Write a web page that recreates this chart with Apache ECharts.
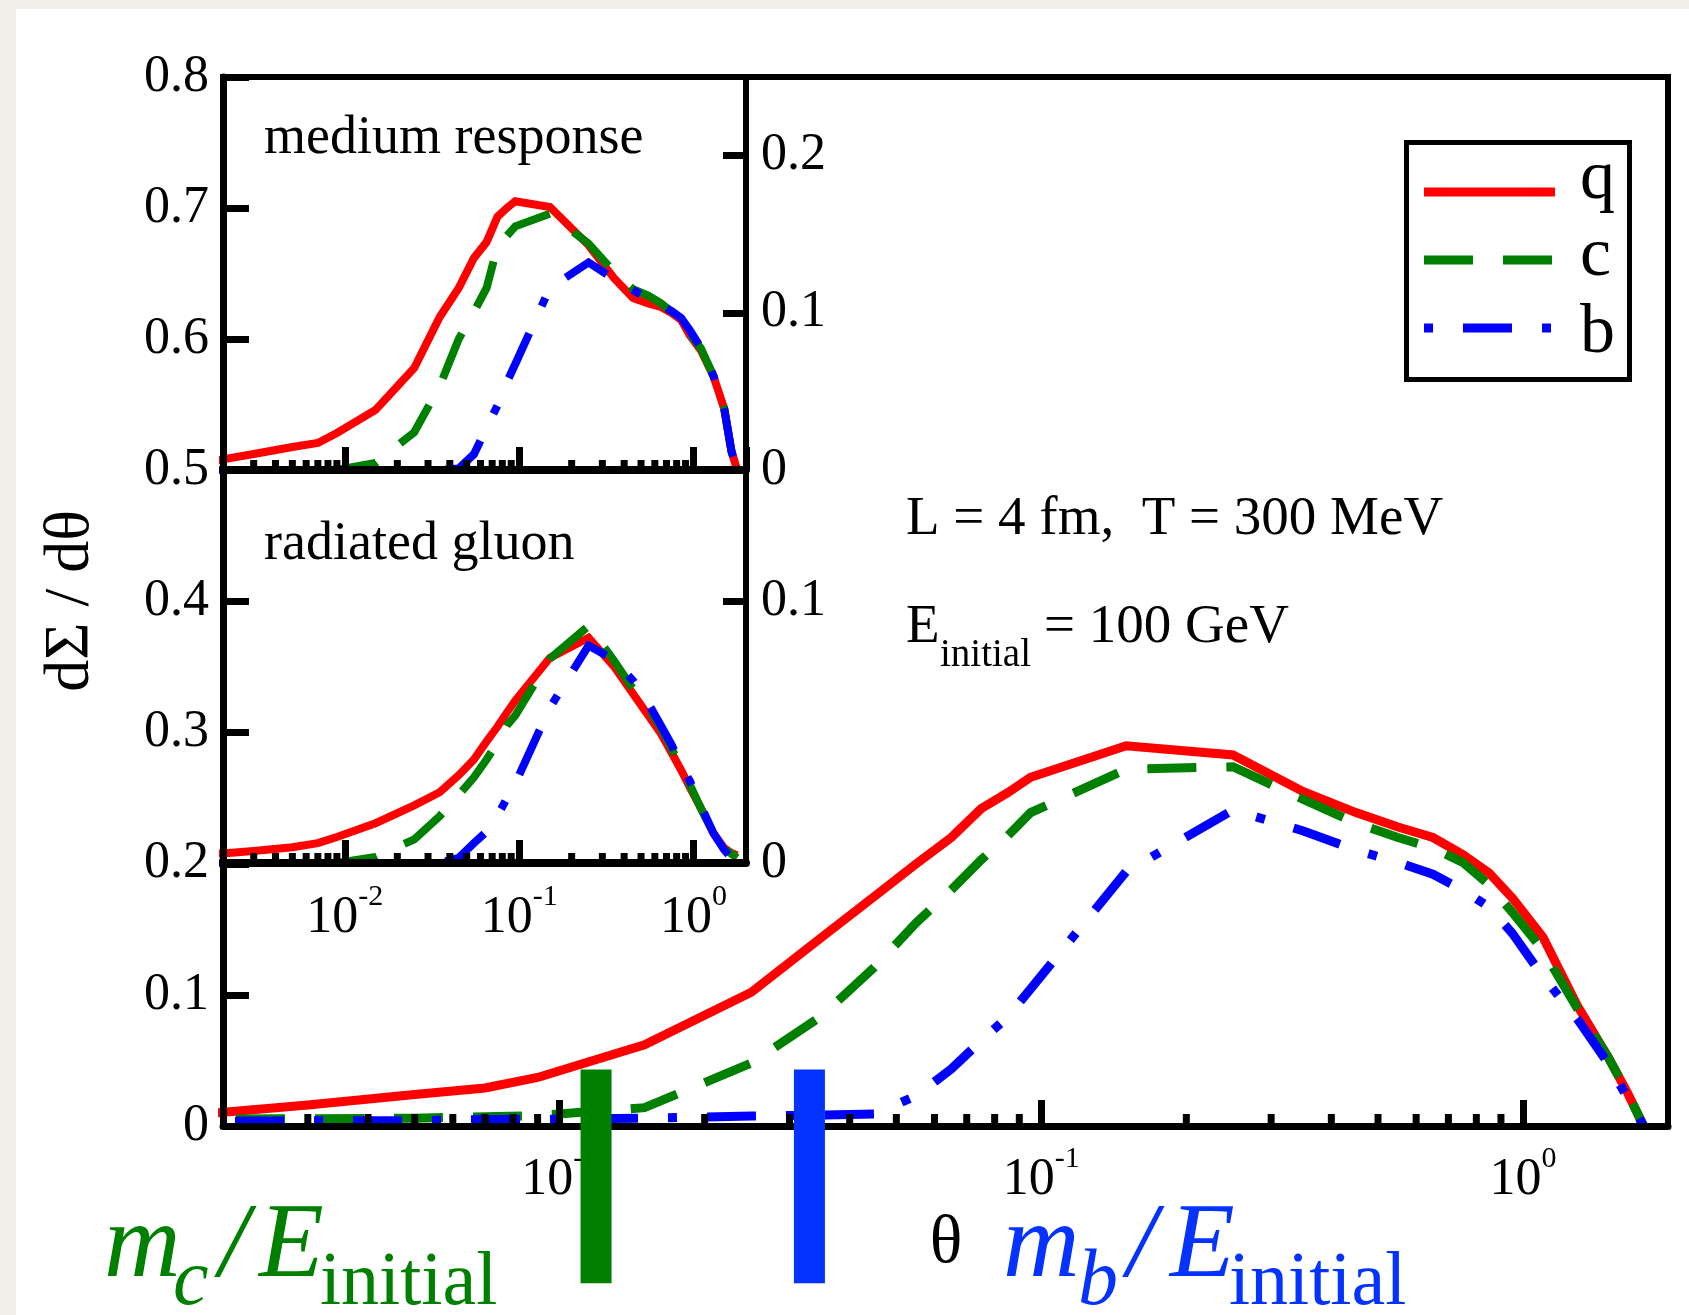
<!DOCTYPE html>
<html>
<head>
<meta charset="utf-8">
<title>dΣ/dθ for q, c, b jets</title>
<script src="https://cdn.jsdelivr.net/npm/echarts@6/dist/echarts.min.js"></script>
<style>
  html, body { margin: 0; padding: 0; background: #f2efe8; overflow: hidden; }
  #paper { position: absolute; left: 16px; top: 9px; right: 0; bottom: 0; background: #ffffff; }
  #chart { position: absolute; left: 0; top: 0; width: 1689px; height: 1315px; }
</style>
</head>
<body>
<div id="paper"></div>
<div id="chart"></div>
<script>
// Angular bin centres shared by every curve
const THETA = [0.001, 0.003, 0.005, 0.007, 0.009, 0.015, 0.025, 0.035, 0.045, 0.055,
               0.065, 0.075, 0.085, 0.095, 0.15, 0.25, 0.35, 0.45, 0.55, 0.65,
               0.75, 0.85, 0.95, 1.1, 1.3, 1.5, 1.65, 1.78];

// Full distribution dΣ/dθ (main panel)
const MAIN_Q = [0.001, 0.016, 0.024, 0.029, 0.037, 0.062, 0.102, 0.144, 0.175, 0.200,
                0.220, 0.242, 0.254, 0.266, 0.290, 0.283, 0.255, 0.239, 0.228, 0.220,
                0.207, 0.193, 0.174, 0.144, 0.091, 0.053, 0.025, 0];
const MAIN_C = [0.005, 0.0055, 0.006, 0.007, 0.008, 0.014, 0.048, 0.084, 0.121, 0.155,
                0.180, 0.203, 0.221, 0.239, 0.272, 0.274, 0.249, 0.231, 0.220, 0.212,
                0.201, 0.184, 0.163, 0.134, 0.089, 0.053, 0.025, 0];
const MAIN_B = [0.003, 0.004, 0.004, 0.005, 0.005, 0.006, 0.0076, 0.0084, 0.0092, 0.023,
                0.0435, 0.065, 0.083, 0.1045, 0.194, 0.241, 0.225, 0.2105, 0.201, 0.192,
                0.180, 0.167, 0.147, 0.114, 0.081, 0.048, 0.021, 0];

// Inset, upper panel: medium response
const MED_Q = [0.001, 0.0102, 0.0146, 0.0172, 0.0235, 0.0382, 0.0649, 0.0973, 0.1158, 0.1349,
               0.145, 0.161, 0.1667, 0.171, 0.1673, 0.143, 0.122, 0.1094, 0.106, 0.1037,
               0.0999, 0.0954, 0.0859, 0.0763, 0.0598, 0.039, 0.012, 0];
const MED_C = [0, 0, 0, 0, 0, 0.0045, 0.024, 0.0534, 0.0833, 0.1005,
               0.1158, 0.1418, 0.149, 0.155, 0.163, 0.144, 0.126, 0.115, 0.111, 0.106,
               0.1005, 0.0954, 0.087, 0.0775, 0.060, 0.039, 0.012, 0];
const MED_B = [0, 0, 0, 0, 0, 0, 0, 0, 0.001, 0.010,
               0.0267, 0.041, 0.056, 0.0674, 0.1158, 0.132, 0.1215, 0.1145, 0.109, 0.105,
               0.101, 0.0967, 0.089, 0.078, 0.060, 0.039, 0.012, 0];

// Inset, lower panel: radiated gluon
const RAD_Q = [0.002, 0.0046, 0.006, 0.0076, 0.0099, 0.0152, 0.022, 0.027, 0.0335, 0.0395,
               0.0464, 0.052, 0.0574, 0.062, 0.0783, 0.086, 0.075, 0.0646, 0.0563, 0.0494,
               0.042, 0.0354, 0.029, 0.021, 0.0114, 0.0057, 0.0038, 0.003];
const RAD_C = [0, 0, 0, 0, 0, 0.0023, 0.009, 0.0179, 0.026, 0.0327,
               0.0395, 0.046, 0.0525, 0.0563, 0.078, 0.0905, 0.0772, 0.0665, 0.059, 0.0517,
               0.0437, 0.036, 0.030, 0.021, 0.0114, 0.0057, 0.0035, 0.002];
const RAD_B = [0, 0, 0, 0, 0, 0, 0, 0, 0.002, 0.0076,
               0.012, 0.018, 0.0247, 0.0304, 0.0593, 0.083, 0.0776, 0.0696, 0.061, 0.0525,
               0.045, 0.037, 0.0315, 0.022, 0.0114, 0.005, 0.002, 0.001];

// Heavy-quark mass scales m/E_initial marked below the θ axis
const MASS_MARKS = [0.0119, 0.033];          // m_c/E_initial, m_b/E_initial
const MASS_BAR_SPAN = [-0.12, 0.043];        // vertical extent in dΣ/dθ units

// Minor tick positions on the logarithmic θ axes
const MINOR_TICKS = [0.003, 0.004, 0.005, 0.006, 0.007, 0.008, 0.009,
                     0.02, 0.03, 0.04, 0.05, 0.06, 0.07, 0.08, 0.09,
                     0.2, 0.3, 0.4, 0.5, 0.6, 0.7, 0.8, 0.9];

const SERIES_NAMES = ['q', 'c', 'b'];

const SERIF = '"Liberation Serif", "Times New Roman", Times, serif';
const COLORS = { q: '#ff0000', c: '#008000', b: '#0000ff' };
const DASH = { q: 'solid', c: [49, 30], b: [9, 30, 49, 30] };
const MASS_COLORS = ['#008000', '#0433ff'];

const chart = echarts.init(document.getElementById('chart'), null, { renderer: 'canvas', width: 1689, height: 1315 });

function pairs(ys) { return THETA.map((t, i) => [t, ys[i]]); }

function curve(name, ys, idx, width) {
  return {
    type: 'line', name: name, xAxisIndex: idx, yAxisIndex: idx,
    data: pairs(ys), showSymbol: false, symbol: 'none', silent: true,
    animation: false, z: 2,
    lineStyle: { color: COLORS[name], width: width, type: DASH[name], cap: 'butt', join: 'miter', miterLimit: 3 }
  };
}

function minorTicks(idx, len) {
  return {
    type: 'custom', xAxisIndex: idx, yAxisIndex: idx, silent: true, z: 5, clip: false,
    animation: false,
    data: MINOR_TICKS.map(v => [v, 0]),
    encode: { x: 0, y: 1 },
    renderItem: (params, api) => {
      const p = api.coord([api.value(0), api.value(1)]);
      return { type: 'line', shape: { x1: p[0], y1: p[1], x2: p[0], y2: p[1] - len },
               style: { stroke: '#000', lineWidth: 7 } };
    }
  };
}

function powerLabel(v) {
  const lg = Math.log10(v);
  const e = Math.round(lg);
  if (Math.abs(lg - e) > 1e-6) return '';
  return '{b|10}{s|' + (e < 0 ? '-' + (-e) : String(e)) + '}';
}

const powerRich = {
  b: { fontFamily: SERIF, fontSize: 52, lineHeight: 72, color: '#000', verticalAlign: 'middle' },
  s: { fontFamily: SERIF, fontSize: 30, lineHeight: 30, color: '#000', verticalAlign: 'top' }
};

function logAxis(idx, tickLen, lineWidth, showLabels, margin) {
  return {
    type: 'log', logBase: 10, gridIndex: idx, min: 0.002, max: 2, z: 4,
    axisLine: { show: true, onZero: false, lineStyle: { color: '#000', width: lineWidth } },
    axisTick: { show: true, inside: true, length: tickLen, lineStyle: { color: '#000', width: 7 } },
    minorTick: { show: false },
    splitLine: { show: false },
    axisLabel: showLabels ? {
      show: true, margin: margin, showMinLabel: false, showMaxLabel: false,
      formatter: powerLabel, rich: powerRich
    } : { show: false }
  };
}

function insetYAxis(idx, max) {
  return {
    type: 'value', gridIndex: idx, position: 'right', min: 0, max: max, interval: 0.1, z: 4,
    axisLine: { show: true, onZero: false, lineStyle: { color: '#000', width: 6 } },
    axisTick: { show: true, inside: true, length: 23, lineStyle: { color: '#000', width: 7 } },
    splitLine: { show: false },
    axisLabel: { show: true, margin: 15, showMaxLabel: false, color: '#000', fontFamily: SERIF, fontSize: 52 }
  };
}

// Text placed by its baseline
function txt(text, x, baseline, size, opt) {
  opt = opt || {};
  return {
    type: 'text', x: x, y: baseline - 0.28 * size, z: 20, silent: true,
    style: {
      text: text, fontFamily: SERIF, fontSize: size,
      fontStyle: opt.italic ? 'italic' : 'normal',
      fill: opt.color || '#000', align: opt.align || 'left', verticalAlign: 'middle'
    }
  };
}

// Legend box drawn from the same names, colours and dash patterns as the curves
const LEGEND_ROWS = [192, 260, 328];
const LEGEND_BASELINES = [199, 276, 353];
const legendGraphics = [
  { type: 'rect', z: 20, silent: true, shape: { x: 1406.5, y: 142.5, width: 223, height: 237 },
    style: { fill: '#fff', stroke: '#000', lineWidth: 5 } }
];
SERIES_NAMES.forEach((n, i) => {
  legendGraphics.push({
    type: 'line', z: 21, silent: true,
    shape: { x1: 1424, y1: LEGEND_ROWS[i], x2: 1555, y2: LEGEND_ROWS[i] },
    style: { stroke: COLORS[n], lineWidth: 9, lineDash: DASH[n] === 'solid' ? null : DASH[n], lineCap: 'butt' }
  });
  legendGraphics.push(Object.assign(txt(n, 1580, LEGEND_BASELINES[i], 70), { z: 21 }));
});

const green = MASS_COLORS[0], blue = MASS_COLORS[1];
const textGraphics = [
  txt('medium response', 264, 154, 54),
  txt('radiated gluon', 264, 560, 54),
  txt('L = 4 fm,  T = 300 MeV', 906, 535, 55),
  txt('E', 906, 643, 55),
  txt('initial', 940, 667, 39),
  txt('= 100 GeV', 1044, 643, 55),
  txt('θ', 946, 1263, 68, { align: 'center' }),
  {
    type: 'text', x: 71, y: 601, rotation: Math.PI / 2, z: 20, silent: true,
    style: { text: 'dΣ / dθ', fontFamily: SERIF, fontSize: 64, fill: '#000', align: 'center', verticalAlign: 'middle' }
  },
  // m_c / E_initial
  txt('m', 104, 1278, 106, { italic: true, color: green }),
  txt('c', 173, 1305, 80, { italic: true, color: green }),
  txt('/', 219, 1278, 106, { italic: true, color: green }),
  txt('E', 259, 1278, 106, { italic: true, color: green }),
  txt('initial', 320, 1305, 76, { color: green }),
  // m_b / E_initial
  txt('m', 1003, 1278, 106, { italic: true, color: blue }),
  txt('b', 1078, 1305, 80, { italic: true, color: blue }),
  txt('/', 1127, 1278, 106, { italic: true, color: blue }),
  txt('E', 1170, 1278, 106, { italic: true, color: blue }),
  txt('initial', 1229, 1305, 76, { color: blue })
];

const gridBase = { show: true, borderColor: '#000', borderWidth: 6, backgroundColor: 'transparent', containLabel: false, outerBoundsMode: 'none', z: 4 };

const option = {
  backgroundColor: 'transparent',
  animation: false,
  textStyle: { fontFamily: SERIF },
  grid: [
    Object.assign({ left: 223, top: 77, width: 1445, height: 1049 }, gridBase),
    Object.assign({ left: 223, top: 77, width: 523, height: 393 }, gridBase),
    Object.assign({ left: 223, top: 470, width: 523, height: 393 }, gridBase)
  ],
  xAxis: [
    logAxis(0, 26, 7, true, 18),
    logAxis(1, 23, 8, false, 0),
    logAxis(2, 23, 8, true, 19)
  ],
  yAxis: [
    {
      type: 'value', gridIndex: 0, min: 0, max: 0.8, interval: 0.1, z: 4,
      axisLine: { show: true, onZero: false, lineStyle: { color: '#000', width: 7 } },
      axisTick: { show: true, inside: true, length: 26, lineStyle: { color: '#000', width: 7 } },
      splitLine: { show: false },
      axisLabel: { show: true, margin: 14, color: '#000', fontFamily: SERIF, fontSize: 52 }
    },
    insetYAxis(1, 0.25),
    insetYAxis(2, 0.15)
  ],
  series: [
    curve('q', MAIN_Q, 0, 9), curve('c', MAIN_C, 0, 9), curve('b', MAIN_B, 0, 9),
    curve('q', MED_Q, 1, 8), curve('c', MED_C, 1, 8), curve('b', MED_B, 1, 8),
    curve('q', RAD_Q, 2, 8), curve('c', RAD_C, 2, 8), curve('b', RAD_B, 2, 8),
    minorTicks(0, 12), minorTicks(1, 10), minorTicks(2, 10),
    {
      type: 'custom', name: 'mass scales', xAxisIndex: 0, yAxisIndex: 0, z: 8, clip: false,
      silent: true, animation: false,
      data: MASS_MARKS.map((m, i) => [m, MASS_BAR_SPAN[0], MASS_BAR_SPAN[1], i]),
      encode: { x: 0, y: [1, 2] },
      renderItem: (params, api) => {
        const top = api.coord([api.value(0), api.value(2)]);
        const bot = api.coord([api.value(0), api.value(1)]);
        return { type: 'rect', shape: { x: top[0] - 15.5, y: top[1], width: 31, height: bot[1] - top[1] },
                 style: { fill: MASS_COLORS[api.value(3)] } };
      }
    }
  ],
  graphic: legendGraphics.concat(textGraphics)
};

chart.setOption(option);
</script>
</body>
</html>
